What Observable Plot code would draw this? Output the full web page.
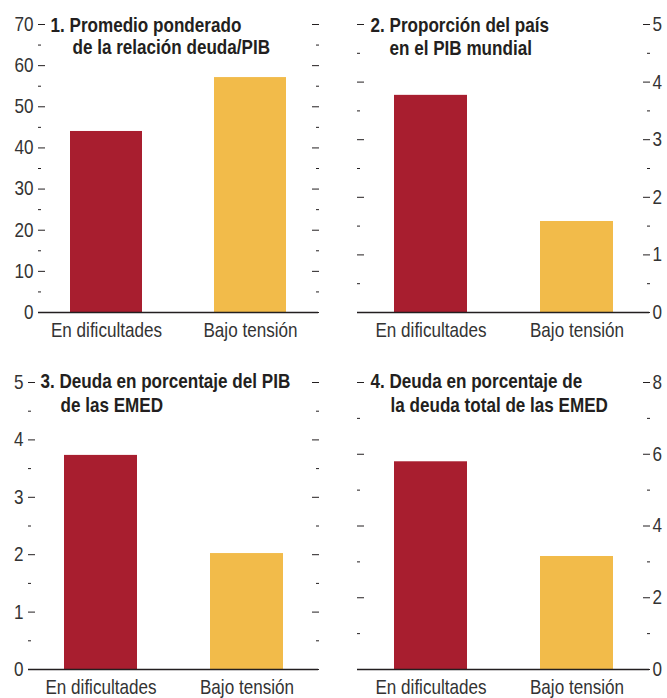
<!DOCTYPE html>
<html>
<head>
<meta charset="utf-8">
<script src="https://cdn.jsdelivr.net/npm/d3@7"></script>
<script src="https://cdn.jsdelivr.net/npm/@observablehq/plot@0.6"></script>
<style>
  body { margin: 0; background: #fff; }
  #chart { position: relative; width: 667px; height: 698px; overflow: hidden; }
  .panel { position: absolute; }
</style>
</head>
<body>
<div id="chart"></div>
<script>
// ---- Data ----
const categories = ["En dificultades", "Bajo tensión"];
const barColors = ["#A81E2F", "#F2BB4A"];

const title1 = ["1. Promedio ponderado", "de la relación deuda/PIB"];
const title2 = ["2. Proporción del país", "en el PIB mundial"];
const title3 = ["3. Deuda en porcentaje del PIB", "de las EMED"];
const title4 = ["4. Deuda en porcentaje de", "la deuda total de las EMED"];

const values1 = [44, 57.1];
const values2 = [3.77, 1.58];
const values3 = [3.73, 2.02];
const values4 = [5.79, 3.15];

const majorTicks1 = [0, 10, 20, 30, 40, 50, 60, 70];
const minorTicks1 = [5, 15, 25, 35, 45, 55, 65];
const majorTicks2 = [0, 1, 2, 3, 4, 5];
const minorTicks2 = [0.5, 1.5, 2.5, 3.5, 4.5];
const majorTicks3 = [0, 1, 2, 3, 4, 5];
const minorTicks3 = [0.5, 1.5, 2.5, 3.5, 4.5];
const majorTicks4 = [0, 2, 4, 6, 8];
const minorTicks4 = [1, 3, 5, 7];

// ---- Drawing ----
const FONT = '"Liberation Sans", Arial, sans-serif';
const NARROW = 0.855; // horizontal condensing of text glyphs
const INK = "#231F20";

function panel(cfg) {
  const data = categories.map((c, i) => ({cat: c, value: cfg.values[i]}));
  const top = cfg.major[cfg.major.length - 1];
  const labelSide = cfg.labelSide;
  const marks = [
    Plot.barY(data, {x: "cat", y: "value", fill: "cat"}),
    Plot.ruleY([0], {stroke: INK, strokeWidth: 1.3}),
    Plot.axisY(cfg.major, {anchor: "left", tickSize: -7, fill: "none", stroke: INK, label: null}),
    Plot.axisY(cfg.minor, {anchor: "left", tickSize: -3, fill: "none", stroke: INK, label: null}),
    Plot.axisY(cfg.major, {anchor: "right", tickSize: -7, fill: "none", stroke: INK, label: null}),
    Plot.axisY(cfg.minor, {anchor: "right", tickSize: -3, fill: "none", stroke: INK, label: null}),
    Plot.axisY(cfg.major, {anchor: labelSide, tickSize: 0, tickPadding: labelSide === "left" ? 5 : 3,
      tickFormat: d => String(d), fill: "#333", fontSize: 20, label: null}),
    Plot.axisX({tickSize: 0, tickPadding: 10, fill: "#333", fontSize: 20, label: null}),
    Plot.text([cfg.title[0]], {frameAnchor: "top-left", text: d => d, textAnchor: "start", lineAnchor: "bottom",
      dx: cfg.tdx[0], dy: cfg.tdy[0], fontSize: 20, fontWeight: "bold", fill: INK}),
    Plot.text([cfg.title[1]], {frameAnchor: "top-left", text: d => d, textAnchor: "start", lineAnchor: "bottom",
      dx: cfg.tdx[1], dy: cfg.tdy[1], fontSize: 20, fontWeight: "bold", fill: INK})
  ];
  const svg = Plot.plot({
    width: cfg.width,
    height: cfg.height,
    marginLeft: cfg.m[0],
    marginRight: cfg.m[1],
    marginTop: cfg.m[2],
    marginBottom: cfg.m[3],
    style: {fontFamily: FONT, background: "transparent", overflow: "visible"},
    x: {domain: categories, paddingInner: 0.5, paddingOuter: cfg.padOuter, label: null},
    y: {domain: [0, top], label: null},
    color: {domain: categories, range: barColors},
    marks
  });
  // condense glyphs horizontally around each text's anchor point
  svg.querySelectorAll("text").forEach(t => {
    const tr = t.getAttribute("transform") || "";
    t.setAttribute("transform", (tr + ` scale(${NARROW},1)`).trim());
  });
  svg.classList.add("panel");
  svg.style.left = cfg.left + "px";
  svg.style.top = cfg.top + "px";
  document.getElementById("chart").appendChild(svg);
}

panel({values: values1, title: title1, major: majorTicks1, minor: minorTicks1, labelSide: "left",
  left: 0, top: 0, width: 334, height: 349, m: [38, 16, 24, 37], padOuter: 0.22,
  tdx: [12, 34], tdy: [7.5, 29.5]});
panel({values: values2, title: title2, major: majorTicks2, minor: minorTicks2, labelSide: "right",
  left: 334, top: 0, width: 333, height: 349, m: [23, 18, 24, 37], padOuter: 0.25,
  tdx: [13, 32], tdy: [7, 30]});
panel({values: values3, title: title3, major: majorTicks3, minor: minorTicks3, labelSide: "left",
  left: 0, top: 349, width: 334, height: 349, m: [28, 16, 33, 29], padOuter: 0.24,
  tdx: [12, 32], tdy: [5.5, 29.5]});
panel({values: values4, title: title4, major: majorTicks4, minor: minorTicks4, labelSide: "right",
  left: 334, top: 349, width: 333, height: 349, m: [23, 18, 33, 29], padOuter: 0.25,
  tdx: [13, 33], tdy: [5.5, 29.5]});
</script>
</body>
</html>
